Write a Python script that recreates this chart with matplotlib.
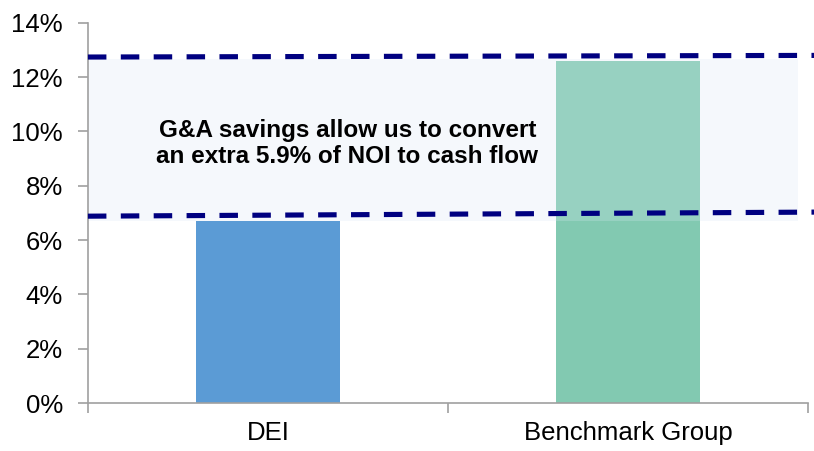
import matplotlib
matplotlib.use("Agg")
import matplotlib.pyplot as plt
from matplotlib.ticker import FixedLocator, FuncFormatter

categories = ["DEI", "Benchmark Group"]
base_values = [6.7, 6.7]
extra_values = [0.0, 5.9]
yticks = [0, 2, 4, 6, 8, 10, 12, 14]
annotation = "G&A savings allow us to convert\nan extra 5.9% of NOI to cash flow"

plt.rcParams['font.family'] = ['Liberation Sans', 'DejaVu Sans']

fig = plt.figure(figsize=(8.14, 4.51), dpi=100)
ax = fig.add_axes([0.108, 0.1064, 0.885, 0.843])

x = list(range(len(categories)))
base_colors = ["#5B9BD5", "#82C9B1"]
ax.bar(x, base_values, width=0.4, color=base_colors, zorder=2)
ax.bar(x, extra_values, bottom=base_values, width=0.4, color="#97D1C1", zorder=2)

# shaded band
ax.add_patch(plt.Rectangle((-0.5, 6.7), 1.972, 5.95, facecolor="#F5F8FC",
                           edgecolor="none", zorder=1))

# dashed lines
for y0, y1 in [(12.74, 12.8), (6.88, 7.03)]:
    ax.plot([-0.5, 1.52], [y0, y1], color="#000080", lw=3.7,
            dashes=(3.6, 2.8), clip_on=False, zorder=3, dash_capstyle='butt')

ax.text(0.22, 9.55, annotation, ha="center", va="center", fontsize=17.5,
        fontweight="bold", color="#000000", zorder=4, linespacing=1.15)

ax.set_xlim(-0.5, 1.5)
ax.set_ylim(0, 14)
ax.yaxis.set_major_locator(FixedLocator(yticks))
ax.yaxis.set_major_formatter(FuncFormatter(lambda v, p: f"{v:.0f}%"))
ax.set_xticks(x)
ax.set_xticklabels(categories)
ax.xaxis.set_minor_locator(FixedLocator([-0.5, 0.5, 1.5]))
ax.tick_params(axis='x', which='major', length=0, labelsize=18.5, pad=13)
ax.tick_params(axis='x', which='minor', length=7, color="#A0A0A0", width=1.2)
ax.tick_params(axis='y', length=7, color="#A0A0A0", width=1.2, labelsize=18.5, pad=11)

for s in ["top", "right"]:
    ax.spines[s].set_visible(False)
for s in ["left", "bottom"]:
    ax.spines[s].set_color("#A0A0A0")
    ax.spines[s].set_linewidth(1.2)

fig.savefig("out.png", dpi=100)
